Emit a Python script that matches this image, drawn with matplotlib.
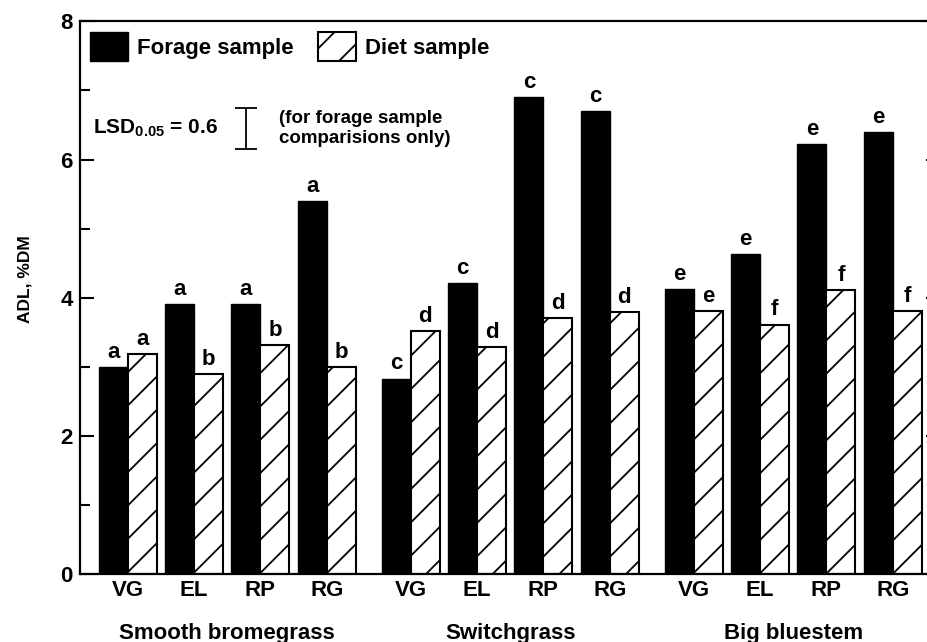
import numpy as np
import matplotlib.pyplot as plt
from matplotlib.patches import Patch
import matplotlib.transforms as mtransforms

plt.rcParams['font.family'] = ['Liberation Sans', 'DejaVu Sans']
plt.rcParams['font.weight'] = 'bold'
plt.rcParams['hatch.linewidth'] = 1.3
plt.rcParams['mathtext.fontset'] = 'custom'
plt.rcParams['mathtext.rm'] = 'Liberation Sans:bold'
plt.rcParams['mathtext.bf'] = 'Liberation Sans:bold'

# Datos
grasses = ['Smooth bromegrass', 'Switchgrass', 'Big bluestem']
stages = ['VG', 'EL', 'RP', 'RG']
forage = [[3.00, 3.91, 3.91, 5.40],
          [2.83, 4.21, 6.91, 6.70],
          [4.12, 4.63, 6.22, 6.40]]
diet = [[3.18, 2.90, 3.31, 3.00],
        [3.52, 3.29, 3.71, 3.79],
        [3.81, 3.61, 4.11, 3.81]]
forage_letters = [['a', 'a', 'a', 'a'], ['c', 'c', 'c', 'c'], ['e', 'e', 'e', 'e']]
diet_letters = [['a', 'b', 'b', 'b'], ['d', 'd', 'd', 'd'], ['e', 'f', 'f', 'f']]
lsd = 0.6

group_step = 4.27
w = 0.437

fig = plt.figure(figsize=(9.28, 6.42), dpi=100)
ax = fig.add_axes([0.0857, 0.1059, 0.927, 0.8608])

centers = []
for g in range(3):
    for i in range(4):
        c = g * group_step + i
        centers.append(c)
        ax.bar(c - w / 2, forage[g][i], width=w, color='black', edgecolor='black', linewidth=1.0)
        ax.bar(c + w / 2, diet[g][i], width=w, color='white', edgecolor='black', linewidth=1.5, hatch='/')
        ax.annotate(forage_letters[g][i], (c - w / 2, forage[g][i]), xytext=(0, 3),
                    textcoords='offset points', ha='center', va='bottom', fontsize=16)
        ax.annotate(diet_letters[g][i], (c + w / 2, diet[g][i]), xytext=(0, 3),
                    textcoords='offset points', ha='center', va='bottom', fontsize=16)

ax.set_xlim(-0.73, 12.25)
ax.set_ylim(0, 8)
ax.set_xticks(centers)
ax.set_xticklabels(stages * 3, fontsize=16)
ax.tick_params(axis='x', length=0, pad=4)
ax.set_yticks([0, 2, 4, 6, 8])
ax.set_yticks([1, 3, 5, 7], minor=True)
ax.tick_params(axis='y', which='major', direction='in', length=10, width=1.5,
               right=True, labelsize=16, pad=5)
ax.tick_params(axis='y', which='minor', direction='in', length=7, width=1.5, right=True)
for s in ax.spines.values():
    s.set_linewidth(1.6)

# Etiquetas de grupo
trans = mtransforms.blended_transform_factory(ax.transData, ax.transAxes)
for g in range(3):
    ax.text(g * group_step + 1.5, -0.107, grasses[g], transform=trans,
            ha='center', va='center', fontsize=16)

fig.text(25 / 928, 1 - 279 / 642, 'ADL, %DM', rotation=90, ha='center', va='center', fontsize=12.5)

# Leyenda
handles = [Patch(facecolor='black', edgecolor='black', label='Forage sample'),
           Patch(facecolor='white', edgecolor='black', linewidth=1.5, hatch='/', label='Diet sample')]
ax.legend(handles=handles, loc='upper left', bbox_to_anchor=(0.0122, 0.981), ncol=2,
          frameon=False, fontsize=16, handlelength=1.72, handleheight=1.62,
          handletextpad=0.4, columnspacing=1.1, borderpad=0, borderaxespad=0)

# LSD
ax.errorbar(1.78, 6.45, yerr=lsd / 2, color='black', capsize=8, elinewidth=1.3, capthick=1.3)
ax.text(-0.53, 6.45, r'LSD$_{\mathbf{0.05}}$ = 0.6', ha='left', va='center', fontsize=15)
ax.text(2.28, 6.45, '(for forage sample\ncomparisions only)', ha='left', va='center',
        fontsize=13.5, linespacing=1.2)

fig.savefig('out.png', dpi=100)
